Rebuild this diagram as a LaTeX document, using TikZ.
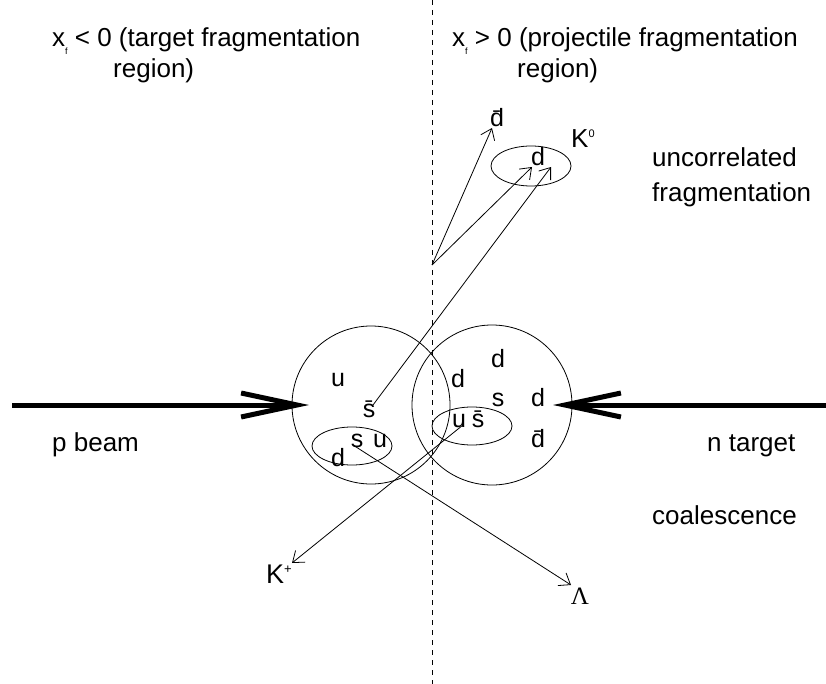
\documentclass[tikz,border=0pt]{standalone}
\usepackage{fontspec}
\setmainfont{Liberation Sans}
\newfontfamily\serifgreek{Liberation Serif}
\usetikzlibrary{arrows.meta}
\begin{document}
\begin{tikzpicture}[x=1pt,y=-1pt,
  big/.style={font=\fontsize{26}{30}\selectfont, inner sep=0pt, anchor=base west},
  quark/.style={font=\fontsize{25}{27}\selectfont, inner sep=0pt, anchor=base},
  thin/.style={line width=0.8pt},
  thinarrow/.style={line width=0.8pt, -{Straight Barb[length=10pt,width=15pt]}},
  beam/.style={line width=5pt, -{Straight Barb[length=56pt,width=24pt]}}]
\useasboundingbox (0,0) rectangle (826,684);
% dashed divider
\draw[thin, dash pattern=on 5pt off 5pt] (432,0) coordinate (dtop) -- (432,684) coordinate (dbot);
% headings
\node[big] (hl1) at (52,47) {x\raisebox{-8pt}{\fontsize{9}{9}\selectfont f} < 0 (target fragmentation};
\node[big] (hl2) at (113,78) {region)};
\node[big] (hr1) at (452,47) {x\raisebox{-8pt}{\fontsize{9}{9}\selectfont f} > 0 (projectile fragmentation};
\node[big] (hr2) at (517,78) {region)};
\node[big] (unc) at (652,167) {uncorrelated};
\node[big] (frag) at (652,202) {fragmentation};
\node[big] (coal) at (652,524) {coalescence};
\node[big] (pb) at (52,451) {p beam};
\node[big] (nt) at (707,451) {n target};
% circles and ellipses
\draw[thin] (371,405) circle (79);
\draw[thin] (492,405) circle (80);
\draw[thin] (352,446) ellipse (40 and 19);
\draw[thin] (472,426) ellipse (40 and 19);
\draw[thin] (531,166) ellipse (40 and 20);
% quarks left nucleon
\node[quark] (uL) at (338,386) {u};
\node[quark] (sbL) at (369,417) {\=s};
\node[quark] (sL) at (357,447) {s};
\node[quark] (uL2) at (380,447) {u};
\node[quark] (dL) at (338,466) {d};
% quarks right nucleon
\node[quark] (dR1) at (498,367) {d};
\node[quark] (dR2) at (458,387) {d};
\node[quark] (sR) at (498,406) {s};
\node[quark] (dR3) at (538,406) {d};
\node[quark] (dbR) at (538,447) {\=d};
\node[quark] (uR) at (459,427) {u};
\node[quark] (sbR) at (478,427) {\=s};
% fragmentation products
\node[quark] (dbF) at (497,127) {\=d};
\node[quark] (dF) at (538,166) {d};
\node[inner sep=0pt, anchor=base west, font=\fontsize{26}{28}\selectfont] (K0) at (571,148) {K\raisebox{10pt}{\fontsize{11}{11}\selectfont 0}};
\node[inner sep=0pt, anchor=base west, font=\fontsize{27}{28}\selectfont] (Kp) at (266,583) {K\raisebox{10pt}{\fontsize{13}{13}\selectfont +}};
\node[inner sep=0pt, anchor=base, font=\fontsize{25}{27}\selectfont\serifgreek] (Lam) at (580,604) {Λ};
% connector points
\coordinate (O) at (432,265);
\coordinate (tdb) at (492,128);
\coordinate (td1) at (532,167);
\coordinate (td2) at (551,167);
\coordinate (sbs) at (373,405);
\coordinate (ss) at (353,445);
\coordinate (tL) at (571,585);
\coordinate (sbs2) at (463,425);
\coordinate (tK) at (292,563);
\draw[thinarrow] (O) -- (tdb);
\draw[thinarrow] (O) -- (td1);
\draw[thinarrow] (sbs) -- (td2);
\draw[thinarrow] (ss) -- (tL);
\draw[thinarrow] (sbs2) -- (tK);
% beams
\coordinate (pbs) at (12,405);
\coordinate (pbt) at (309,405);
\coordinate (nbs) at (826,405);
\coordinate (nbt) at (553,405);
\draw[beam] (pbs) -- (pbt);
\draw[beam] (nbs) -- (nbt);
\end{tikzpicture}
\end{document}
